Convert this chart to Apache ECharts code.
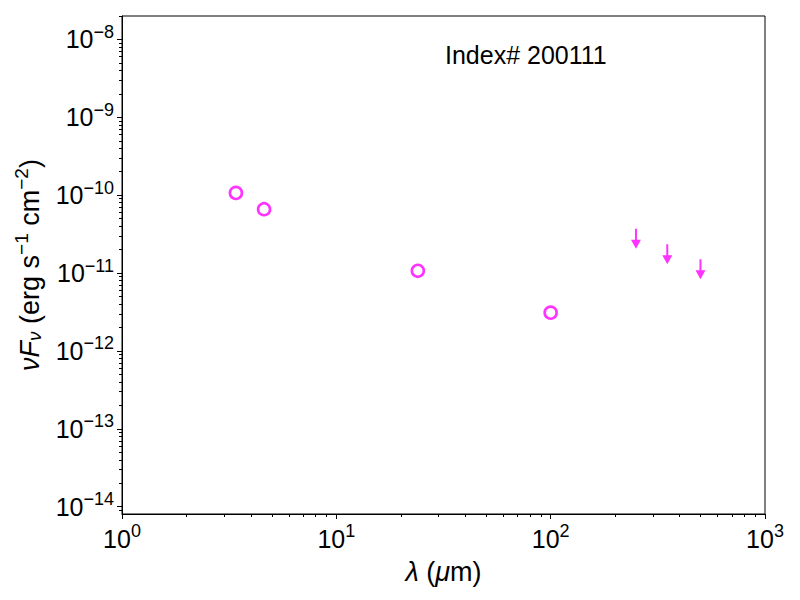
<!DOCTYPE html>
<html>
<head>
<meta charset="utf-8">
<script src="https://cdn.jsdelivr.net/npm/echarts@6/dist/echarts.min.js"></script>
<style>
  html, body { margin: 0; padding: 0; background: #fff; }
  #main { width: 800px; height: 600px; }
</style>
</head>
<body>
<div id="main"></div>
<script>
// detections: wavelength (um) and nuFnu (erg s^-1 cm^-2)
var detWave = [3.4, 4.6, 24, 100];
var detFlux = [1.07e-10, 6.6e-11, 1.07e-11, 3.1e-12];

// upper limits (top of the arrow)
var limWave = [250, 350, 500];
var limFlux = [3.7e-11, 2.35e-11, 1.5e-11];

var xMajor = [1, 10, 100, 1000];
var yMajor = [1e-14, 1e-13, 1e-12, 1e-11, 1e-10, 1e-9, 1e-8];
var labelText = 'Index# 200111';

function minors(lo, hi) {
    var out = [];
    for (var k = lo; k <= hi; k++) {
        for (var m = 2; m <= 9; m++) {
            out.push(m * Math.pow(10, k));
        }
    }
    return out;
}

var font = 'Liberation Sans, Arial, Helvetica, sans-serif';
var magenta = '#ff00ff';

function powLabel(v) {
    var e = Math.round(Math.log10(v));
    var s = e < 0 ? '\u2212' + (-e) : '' + e;
    return '{b|10}{s|' + s + '}';
}

var tickRich = {
    b: { fontSize: 25, fontFamily: font, color: '#000' },
    s: { fontSize: 18, fontFamily: font, color: '#000', padding: [0, 0, 15, 0] }
};

var myChart = echarts.init(document.getElementById('main'), null, { renderer: 'svg' });

var option = {
    animation: false,
    backgroundColor: '#fff',
    grid: {
        left: 122, right: 35, top: 16, bottom: 86,
        show: true, borderColor: '#000', borderWidth: 1, backgroundColor: 'transparent'
    },
    xAxis: [{
        type: 'log',
        min: 1, max: 1000,
        position: 'bottom',
        axisLine: { onZero: false, lineStyle: { color: '#000', width: 1 } },
        axisTick: { customValues: xMajor, length: 5, lineStyle: { color: '#000' } },
        axisLabel: { customValues: xMajor, formatter: powLabel, rich: tickRich, margin: 8 },
        splitLine: { show: false },
        name: '{i|\u03bb} ({i|\u03bc}m)',
        nameLocation: 'middle',
        nameGap: 44,
        nameTextStyle: {
            rich: {
                i: { fontSize: 27, fontFamily: font, fontStyle: 'italic', color: '#000' }
            },
            fontSize: 27, fontFamily: font, color: '#000'
        }
    }, {
        type: 'log',
        min: 1, max: 1000,
        position: 'bottom',
        axisLine: { show: false, onZero: false },
        axisTick: { customValues: minors(0, 2), length: 3, lineStyle: { color: '#000' } },
        axisLabel: { show: false },
        splitLine: { show: false }
    }],
    yAxis: [{
        type: 'log',
        min: 8.05e-15, max: 2.0e-8,
        position: 'left',
        axisLine: { onZero: false, lineStyle: { color: '#000', width: 1 } },
        axisTick: { customValues: yMajor, length: 5, lineStyle: { color: '#000' } },
        axisLabel: { customValues: yMajor, formatter: powLabel, rich: tickRich, margin: 8 },
        splitLine: { show: false },
        name: '{i|\u03bdF}{sub|\u03bd} (erg s{sup|\u22121} cm{sup|\u22122})',
        nameLocation: 'middle',
        nameGap: 75,
        nameTextStyle: {
            rich: {
                i: { fontSize: 27, fontFamily: font, fontStyle: 'italic', color: '#000' },
                sub: { fontSize: 19, fontFamily: font, fontStyle: 'italic', color: '#000', padding: [10, 0, 0, 0] },
                sup: { fontSize: 19, fontFamily: font, color: '#000', padding: [0, 0, 16, 0] }
            },
            fontSize: 27, fontFamily: font, color: '#000'
        }
    }, {
        type: 'log',
        min: 8.05e-15, max: 2.0e-8,
        position: 'left',
        axisLine: { show: false, onZero: false },
        axisTick: { customValues: minors(-15, -8), length: 3, lineStyle: { color: '#000' } },
        axisLabel: { show: false },
        splitLine: { show: false }
    }],
    graphic: [{
        type: 'text',
        left: 445,
        top: 42,
        style: { text: labelText, fontSize: 25, fontFamily: font, fill: '#000' }
    }],
    series: [{
        name: 'detections',
        type: 'scatter',
        xAxisIndex: 0, yAxisIndex: 0,
        symbol: 'circle',
        symbolSize: 12,
        itemStyle: { color: 'rgba(0,0,0,0)', borderColor: magenta, borderWidth: 2.6 },
        data: detWave.map(function(w, i) { return [w, detFlux[i]]; })
    }, {
        name: 'upper limits',
        type: 'scatter',
        xAxisIndex: 0, yAxisIndex: 0,
        symbol: 'path://M4,0 L6,0 L6,11 L10,11 L5,20 L0,11 L4,11 Z',
        symbolSize: [10, 20],
        symbolOffset: [0, 10],
        itemStyle: { color: magenta },
        data: limWave.map(function(w, i) { return [w, limFlux[i]]; })
    }]
};

myChart.setOption(option);
</script>
</body>
</html>
